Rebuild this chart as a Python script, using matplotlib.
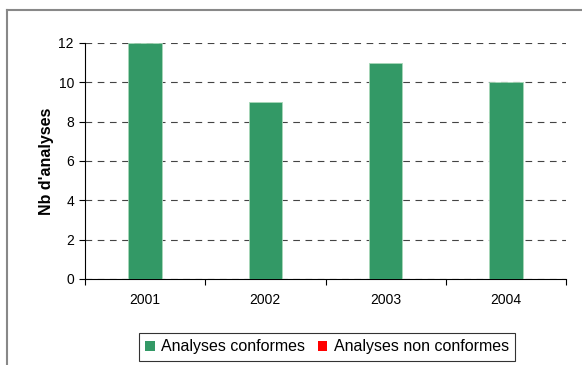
import matplotlib.pyplot as plt
from matplotlib.patches import Patch
import numpy as np

years = ['2001', '2002', '2003', '2004']
conformes = [12, 9, 11, 10]
non_conformes = [0, 0, 0, 0]

W, H = 582, 365
fig = plt.figure(figsize=(W/100, H/100), dpi=100)
plt.rcParams['font.family'] = ['Liberation Sans', 'DejaVu Sans']

# figure border (grey) - left and top visible
fig.add_artist(plt.Line2D([7/W, 7/W], [0, 1 - 10/H], color='#888888', lw=1.5, transform=fig.transFigure))
fig.add_artist(plt.Line2D([7/W, 1], [1 - 10/H, 1 - 10/H], color='#888888', lw=1.5, transform=fig.transFigure))

x0, x1 = 85, 566
y0, y1 = 43, 279
ax = fig.add_axes([x0/W, 1 - y1/H, (x1-x0)/W, (y1-y0)/H])

x = np.arange(len(years))
ax.bar(x, conformes, width=0.28, color='#339966', edgecolor='#a8d8b8', linewidth=0.6, zorder=3)
ax.set_xlim(-0.5, len(years) - 0.5)
ax.set_ylim(0, 12)
ax.set_yticks(range(0, 13, 2))
ax.set_xticks(x)
ax.set_xticklabels(years, fontsize=10)
ax.tick_params(axis='x', length=0, pad=10)
ax.set_xticks(np.arange(-0.5, len(years)), minor=True)
ax.tick_params(axis='x', which='minor', length=4, width=0.8, direction='out')
ax.tick_params(axis='y', length=4, width=0.8, direction='out', labelsize=10, pad=4)
for s in ['top', 'right']:
    ax.spines[s].set_visible(False)
for s in ['left', 'bottom']:
    ax.spines[s].set_linewidth(0.8)
    ax.spines[s].set_color('black')
ax.yaxis.grid(True, linestyle=(0, (6, 5)), color='#444444', linewidth=0.8, zorder=0)
ax.set_axisbelow(True)
ax.set_ylabel("Nb d'analyses", fontsize=11.5, fontweight='bold', labelpad=3)

handles = [Patch(facecolor='#339966', edgecolor='none'), Patch(facecolor='#ff0000', edgecolor='none')]
leg = fig.legend(handles, ['Analyses conformes', 'Analyses non conformes'],
                 loc='center', bbox_to_anchor=(327/W, 1 - 347/H), ncol=2, fontsize=11.5,
                 frameon=True, fancybox=False, edgecolor='black', handlelength=0.6,
                 handleheight=0.6, handletextpad=0.4, columnspacing=0.8, borderpad=0.4)
leg.get_frame().set_linewidth(0.8)

fig.savefig('out.png', dpi=100)
